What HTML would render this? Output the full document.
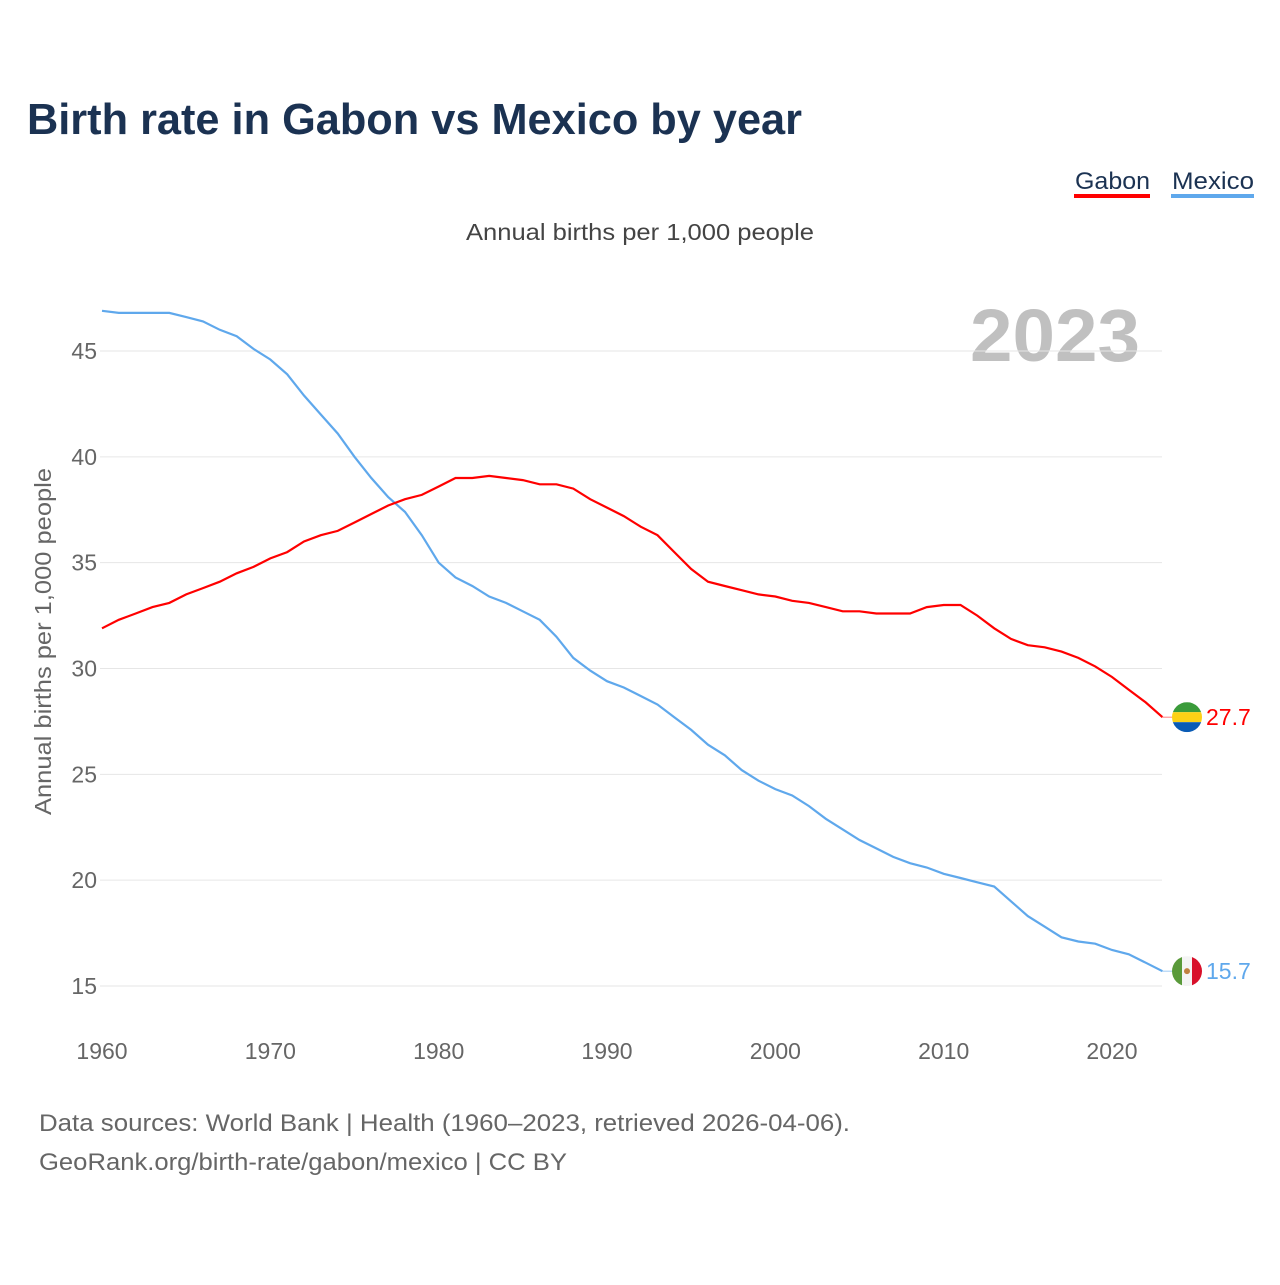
<!DOCTYPE html>
<html><head><meta charset="utf-8"><style>
body{margin:0;background:#fff;width:1280px;height:1280px;overflow:hidden;font-family:"Liberation Sans",sans-serif}
</style></head><body>
<svg width="1280" height="1280" xmlns="http://www.w3.org/2000/svg" font-family="Liberation Sans, sans-serif">
<text x="27" y="134" font-size="44" font-weight="bold" fill="#1b3252" textLength="775" lengthAdjust="spacingAndGlyphs">Birth rate in Gabon vs Mexico by year</text>
<g><text x="1075" y="189" font-size="24" fill="#1b3252" textLength="75" lengthAdjust="spacingAndGlyphs">Gabon</text><rect x="1074" y="194" width="76" height="4" fill="#ff0000"/></g>
<g><text x="1172" y="189" font-size="24" fill="#1b3252" textLength="82" lengthAdjust="spacingAndGlyphs">Mexico</text><rect x="1171" y="194" width="83" height="4" fill="#5fa8ec"/></g>
<text x="466" y="240" font-size="23" fill="#444" textLength="348" lengthAdjust="spacingAndGlyphs">Annual births per 1,000 people</text>
<text x="970" y="361" font-size="74" font-weight="bold" fill="#c0c0c0" textLength="170" lengthAdjust="spacingAndGlyphs">2023</text>
<text transform="translate(51,815) rotate(-90)" font-size="23" fill="#666" textLength="347" lengthAdjust="spacingAndGlyphs">Annual births per 1,000 people</text>
<g id="grid"></g><g id="xt"></g><g id="lines"></g><g id="ends"></g>
<text x="39" y="1131" font-size="24" fill="#666" textLength="811" lengthAdjust="spacingAndGlyphs">Data sources: World Bank | Health (1960–2023, retrieved 2026-04-06).</text>
<text x="39" y="1170" font-size="24" fill="#666" textLength="528" lengthAdjust="spacingAndGlyphs">GeoRank.org/birth-rate/gabon/mexico | CC BY</text>
</svg>
<script>
const years=[];for(let y=1960;y<=2023;y++)years.push(y);
const gabon=[31.9,32.3,32.6,32.9,33.1,33.5,33.8,34.1,34.5,34.8,35.2,35.5,36.0,36.3,36.5,36.9,37.3,37.7,38.0,38.2,38.6,39.0,39.0,39.1,39.0,38.9,38.7,38.7,38.5,38.0,37.6,37.2,36.7,36.3,35.5,34.7,34.1,33.9,33.7,33.5,33.4,33.2,33.1,32.9,32.7,32.7,32.6,32.6,32.6,32.9,33.0,33.0,32.5,31.9,31.4,31.1,31.0,30.8,30.5,30.1,29.6,29.0,28.4,27.7];
const mexico=[46.9,46.8,46.8,46.8,46.8,46.6,46.4,46.0,45.7,45.1,44.6,43.9,42.9,42.0,41.1,40.0,39.0,38.1,37.4,36.3,35.0,34.3,33.9,33.4,33.1,32.7,32.3,31.5,30.5,29.9,29.4,29.1,28.7,28.3,27.7,27.1,26.4,25.9,25.2,24.7,24.3,24.0,23.5,22.9,22.4,21.9,21.5,21.1,20.8,20.6,20.3,20.1,19.9,19.7,19.0,18.3,17.8,17.3,17.1,17.0,16.7,16.5,16.1,15.7];
const yTicks=[15,20,25,30,35,40,45];
const xTicks=[1960,1970,1980,1990,2000,2010,2020];
const NS="http://www.w3.org/2000/svg";
const X=y=>102+(y-1960)*(1112-102)/60;
const Y=v=>986-(v-15)*(986-351)/30;
function mk(t,a,p){const e=document.createElementNS(NS,t);for(const k in a)e.setAttribute(k,a[k]);document.getElementById(p).appendChild(e);return e;}
yTicks.forEach(v=>{
const l=mk('line',{x1:100,x2:1162,y1:Y(v),y2:Y(v),stroke:'#e6e6e6','stroke-width':1},'grid');


const t=mk('text',{x:97,y:Y(v)+8,'font-size':23,fill:'#666','text-anchor':'end'},'grid');t.textContent=v;


});
xTicks.forEach(v=>{
const t=mk('text',{x:X(v),y:1059,'font-size':23,fill:'#666','text-anchor':'middle'},'xt');t.textContent=v;


});
function line(d,c,name){
const p=mk('path',{d:d.map((v,i)=>(i?'L':'M')+X(years[i]).toFixed(1)+','+Y(v).toFixed(1)).join(''),fill:'none',stroke:c,'stroke-width':2.2},'lines');


}
line(mexico,'#5fa8ec','mexico-line');
line(gabon,'#ff0000','gabon-line');
const gx=1187,gy=Y(gabon[gabon.length-1]),my=Y(mexico[mexico.length-1]);
document.getElementById('ends').innerHTML=
`<defs><clipPath id="cg"><circle cx="${gx}" cy="${gy}" r="15"/></clipPath><clipPath id="cm"><circle cx="${gx}" cy="${my}" r="15"/></clipPath></defs>
<line x1="1162" x2="1172" y1="${gy}" y2="${gy}" stroke="#ff8080" stroke-width="1"/>
<line x1="1162" x2="1172" y1="${my}" y2="${my}" stroke="#9fcaf3" stroke-width="1"/>
<g clip-path="url(#cg)"><rect x="${gx-15}" y="${gy-15}" width="30" height="10" fill="#3a9b3a"/><rect x="${gx-15}" y="${gy-5}" width="30" height="10" fill="#fcd116"/><rect x="${gx-15}" y="${gy+5}" width="30" height="10" fill="#0a5bb5"/></g>
<text x="1206" y="${gy+8}" font-size="23" fill="#ff0000">${gabon[gabon.length-1]}</text>
<g clip-path="url(#cm)"><rect x="${gx-15}" y="${my-15}" width="10" height="30" fill="#5a9a3a"/><rect x="${gx-5}" y="${my-15}" width="10" height="30" fill="#f4f4f4"/><rect x="${gx+5}" y="${my-15}" width="10" height="30" fill="#d8102a"/><circle cx="${gx}" cy="${my}" r="3" fill="#c08040"/></g>
<text x="1206" y="${my+8}" font-size="23" fill="#5fa8ec">${mexico[mexico.length-1]}</text>`;
</script>
</body></html>
